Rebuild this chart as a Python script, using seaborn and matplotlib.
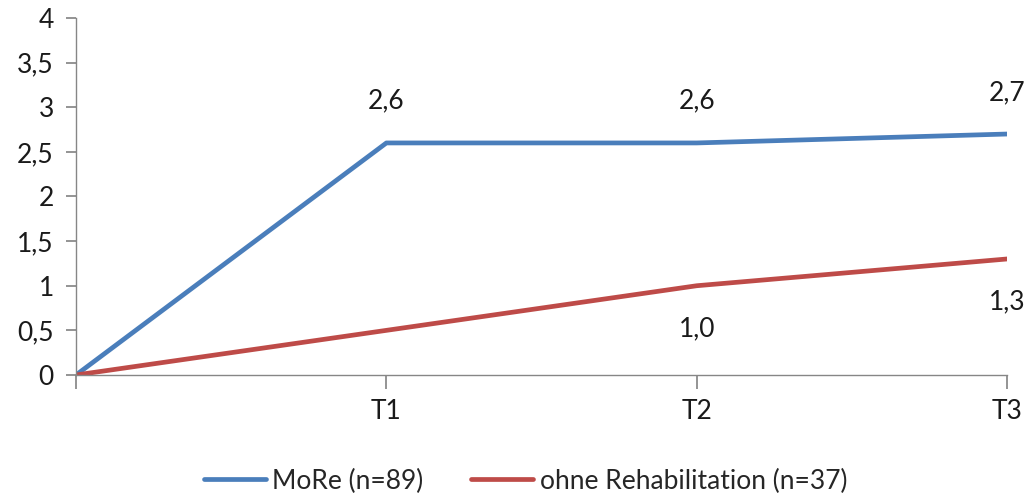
import numpy as np
import pandas as pd
import seaborn as sns
import matplotlib.pyplot as plt

categories = ["", "T1", "T2", "T3"]
more_values = [0, 2.6, 2.6, 2.7]
ohne_values = [0, 0.5, 1.0, 1.3]
series_names = ["MoRe (n=89)", "ohne Rehabilitation (n=37)"]
# which points carry a data label
more_labelled = [False, True, True, True]
ohne_labelled = [False, False, True, True]

sns.set_theme(style="white")
plt.rcParams["font.family"] = ["Lato", "DejaVu Sans"]

df = pd.DataFrame({
    "x": list(range(len(categories))) * 2,
    "value": more_values + ohne_values,
    "series": [series_names[0]] * 4 + [series_names[1]] * 4,
})

fig = plt.figure(figsize=(10.3, 4.96), dpi=100)
ax = fig.add_axes([0.0738, 0.244, 0.904, 0.7197])

palette = {series_names[0]: "#4A7EBB", series_names[1]: "#BE4B48"}
sns.lineplot(data=df, x="x", y="value", hue="series", palette=palette,
             linewidth=3.4, ax=ax, legend=False)

ax.set_xlim(0, 3)
ax.set_ylim(0, 4)
ax.set_yticks(np.arange(0, 4.01, 0.5))
ax.set_yticklabels([f"{v:g}".replace(".", ",") for v in np.arange(0, 4.01, 0.5)])
ax.set_xticks(range(len(categories)))
ax.set_xticklabels(categories)
ax.set_xlabel("")
ax.set_ylabel("")

fs = 19
for s in ["top", "right"]:
    ax.spines[s].set_visible(False)
for s in ["left", "bottom"]:
    ax.spines[s].set_color("#868686")
    ax.spines[s].set_linewidth(1)
ax.tick_params(axis="y", direction="out", length=7, color="#868686",
               labelsize=fs, labelcolor="#1a1a1a", pad=9, left=True)
ax.tick_params(axis="x", direction="out", length=10, color="#868686",
               labelsize=fs, labelcolor="#1a1a1a", pad=7, bottom=True)

for i, (v, lab) in enumerate(zip(more_values, more_labelled)):
    if lab:
        ax.annotate(f"{v:.1f}".replace(".", ","), (i, v), xytext=(0, 30),
                    textcoords="offset points", ha="center", va="center",
                    fontsize=fs, color="#1a1a1a", annotation_clip=False)
for i, (v, lab) in enumerate(zip(ohne_values, ohne_labelled)):
    if lab:
        ax.annotate(f"{v:.1f}".replace(".", ","), (i, v), xytext=(0, -31),
                    textcoords="offset points", ha="center", va="center",
                    fontsize=fs, color="#1a1a1a", annotation_clip=False)

handles = [plt.Line2D([], [], color=palette[n], linewidth=3.4) for n in series_names]
fig.legend(handles, series_names, loc="center", bbox_to_anchor=(0.51, 0.03),
           ncol=2, frameon=False, fontsize=fs, handlelength=2.35,
           columnspacing=1.8, handletextpad=0.25)

fig.savefig("out.png", dpi=100)
